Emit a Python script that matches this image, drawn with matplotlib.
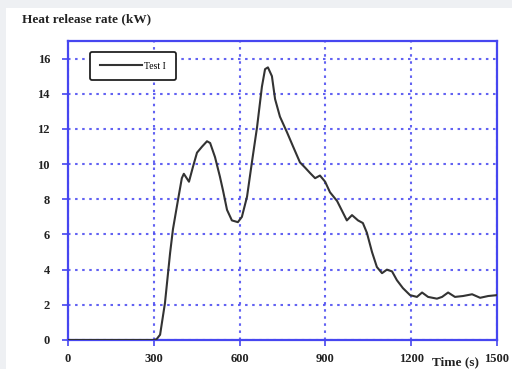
import numpy as np
import matplotlib.pyplot as plt
from matplotlib.patches import Rectangle

# Heat release rate curve
time_s = [0, 300, 310, 322, 339, 357, 367, 385, 398, 405, 423, 437, 451, 469, 486,
          497, 514, 531, 542, 556, 573, 594, 608, 626, 643, 661, 678, 689, 699,
          713, 724, 741, 766, 787, 811, 829, 846, 864, 881, 899, 916, 941, 975,
          993, 1014, 1031, 1045, 1063, 1080, 1098, 1115, 1133, 1150, 1171, 1196,
          1220, 1238, 1259, 1290, 1308, 1329, 1353, 1381, 1413, 1441, 1469, 1500]
hrr_kw = [0, 0, 0.05, 0.3, 2.1, 4.95, 6.3, 8.0, 9.2, 9.45, 9.0, 9.85, 10.65, 11.0, 11.3,
          11.2, 10.4, 9.3, 8.5, 7.4, 6.8, 6.7, 7.0, 8.15, 10.1, 12.1, 14.4, 15.4, 15.5,
          15.0, 13.7, 12.7, 11.8, 11.0, 10.1, 9.8, 9.5, 9.2, 9.35, 9.0, 8.4, 7.9, 6.8,
          7.1, 6.8, 6.65, 6.1, 5.0, 4.15, 3.8, 4.0, 3.9, 3.4, 2.95, 2.55,
          2.45, 2.7, 2.45, 2.35, 2.45, 2.7, 2.45, 2.5, 2.6, 2.4, 2.5, 2.55]
x_ticks = [0, 300, 600, 900, 1200, 1500]
y_ticks = [0, 2, 4, 6, 8, 10, 12, 14, 16]

blue = '#4646f0'
serif = ['Liberation Serif', 'DejaVu Serif']

fig = plt.figure(figsize=(5.12, 3.69), dpi=100, facecolor='#eef0f3')
fig.patches.append(Rectangle((6/512, 0), 1, 1 - 8/369, transform=fig.transFigure,
                             facecolor='white', edgecolor='none', zorder=-10))

ax = fig.add_axes([68/512, 29/369, 429/512, 299/369])
ax.set_zorder(1)
ax.set_facecolor('white')
ax.plot(time_s, hrr_kw, color='#333333', lw=1.5, label='Test I', zorder=3)

ax.set_xlim(0, 1500)
ax.set_ylim(0, 17)
ax.set_xticks(x_ticks)
ax.set_yticks(y_ticks)
ax.grid(True, color=blue, ls=(0, (1.2, 2.2)), lw=1.5, alpha=0.85)
for s in ax.spines.values():
    s.set_color(blue)
    s.set_linewidth(1.6)
ax.tick_params(colors=blue, length=4, width=1.2, direction='out', labelcolor='#222222',
               labelsize=9)
ax.tick_params(axis='y', pad=9)
ax.tick_params(axis='x', pad=5)
for lbl in ax.get_xticklabels() + ax.get_yticklabels():
    lbl.set_family(serif)
    lbl.set_fontweight('bold')

leg = ax.legend(loc='upper left', bbox_to_anchor=(0.04, 0.98),
                prop={'family': serif, 'size': 7}, fancybox=True, framealpha=1,
                edgecolor='#222222', handlelength=4.3, handletextpad=0.3,
                borderpad=1.0)
leg.get_frame().set_linewidth(1.3)

fig.text(22/512, 1 - 19/369, 'Heat release rate (kW)', family=serif, fontsize=9.5,
         fontweight='bold', va='center', ha='left', color='#222222')
fig.text(432/512, 0.5/369, 'Time (s)', family=serif, fontsize=9.5, fontweight='bold',
         va='bottom', ha='left', color='#222222')

fig.savefig('out.png', dpi=100, facecolor=fig.get_facecolor())
